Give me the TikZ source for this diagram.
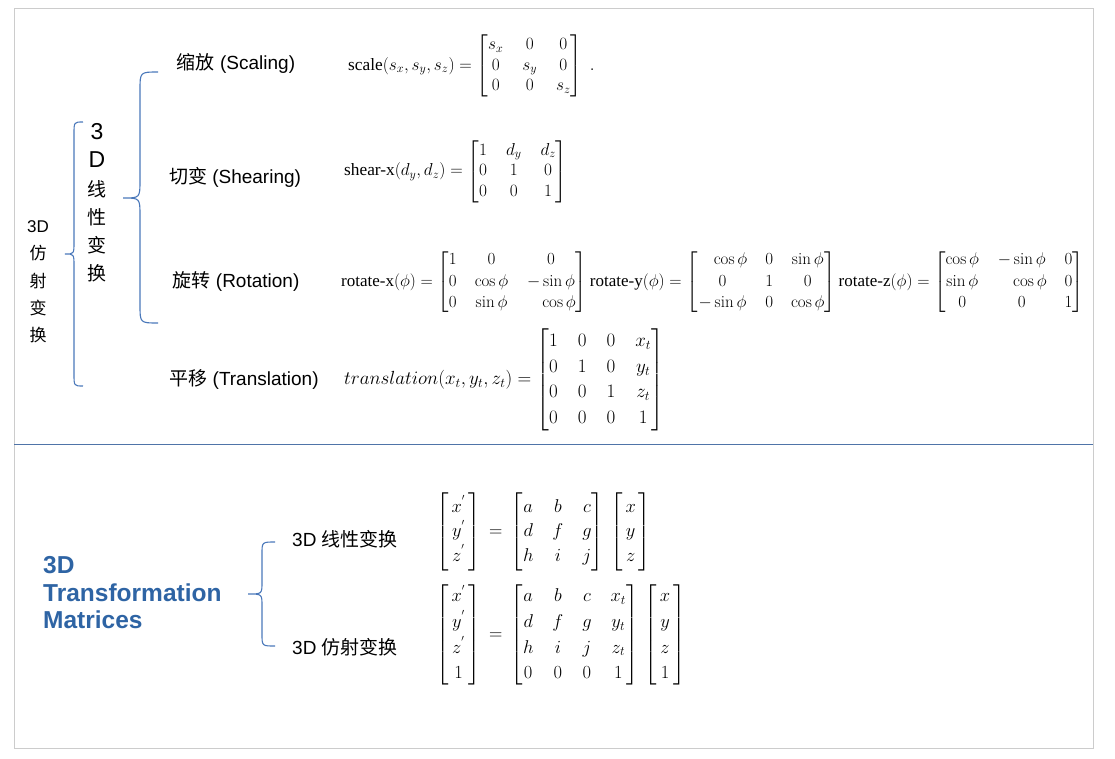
\RequirePackage{fix-cm}
\documentclass[tikz,border=0pt]{standalone}
\usepackage{amsmath, amssymb}
\usepackage{xcolor}
\usepackage{fontspec}
\usepackage{tikz}
\newfontfamily\labfont{Liberation Sans}
\newfontfamily\tms{Liberation Serif}
\newfontfamily\cjk{Noto Sans CJK SC}
\newcommand{\zh}[1]{{\cjk #1}}
\definecolor{BraceBlue}{HTML}{4A78BA}
\definecolor{TitleBlue}{HTML}{2E64A4}
\definecolor{RuleBlue}{HTML}{4F74A8}
\definecolor{FrameGray}{HTML}{CCCCCC}
\setlength{\arraycolsep}{9.5pt}

\begin{document}
\begin{tikzpicture}[x=1pt,y=-1pt,
    lbl/.style={inner sep=0pt, font=\labfont\fontsize{19}{22}\selectfont},
    eqa/.style={anchor=west, inner sep=0pt, font=\fontsize{17.3}{20.5}\selectfont},
    eqb/.style={anchor=west, inner sep=0pt, font=\fontsize{19}{25.7}\selectfont},
    curly/.style={BraceBlue, line width=1.1pt}]
    \useasboundingbox (0,0) rectangle (1115,758);

    % Frame and the divider
    \draw[FrameGray] (14,8) rectangle (1093,748);
    \draw[RuleBlue, line width=0.8pt] (14,444) -- (1093,444);

    % Vertical headings
    \node[inner sep=0pt, align=center, font=\labfont\fontsize{17}{27.3}\selectfont] (affine) at (38,282) {3D\\\zh{仿}\\\zh{射}\\\zh{变}\\\zh{换}};
    \node[inner sep=0pt, align=center, font=\labfont\fontsize{19}{28.2}\selectfont] (linear) at (97,203) {{\fontsize{23}{28.2}\selectfont 3}\\{\fontsize{23}{28.2}\selectfont D}\\\zh{线}\\\zh{性}\\\zh{变}\\\zh{换}};

    % Braces
    \draw[curly] (83,122) .. controls (74,122) .. (74,134) -- (74,242) .. controls (74,254) .. (65,254) .. controls (74,254) .. (74,266) -- (74,374) .. controls (74,386) .. (83,386);
    \draw[curly] (158,72) .. controls (140,72) .. (140,90) -- (140,180) .. controls (140,198) .. (123,198) .. controls (140,198) .. (140,216) -- (140,305) .. controls (140,323) .. (158,323);

    % Transformation names
    \node[lbl] (scl) at (236,63) {\zh{缩放} (Scaling)};
    \node[lbl] (shr) at (235,177) {\zh{切变} (Shearing)};
    \node[lbl] (rot) at (236,281) {\zh{旋转} (Rotation)};
    \node[lbl] (trn) at (244,379) {\zh{平移} (Translation)};

    % Their matrices
    \node[eqa] (scleq) at (348,66) {$\text{\tms scale}(s_x,s_y,s_z)=\begin{bmatrix}s_x&0&0\\0&s_y&0\\0&0&s_z\end{bmatrix}\;.$};
    \node[eqa] (shreq) at (344,171.5) {$\text{\tms shear-x}(d_y,d_z)=\begin{bmatrix}1&d_y&d_z\\0&1&0\\0&0&1\end{bmatrix}$};
    \node[eqa, font=\fontsize{17}{21.5}\selectfont] (roteq) at (341,282) {\setlength{\arraycolsep}{9pt}$\text{\tms rotate-x}(\phi)=\begin{bmatrix}1&0&0\\0&\cos\phi&-\sin\phi\\0&\sin\phi&\phantom{-}\cos\phi\end{bmatrix}\text{\tms rotate-y}(\phi)=\begin{bmatrix}\phantom{-}\cos\phi&0&\sin\phi\\0&1&0\\-\sin\phi&0&\cos\phi\end{bmatrix}\text{\tms rotate-z}(\phi)=\begin{bmatrix}\cos\phi&-\sin\phi&0\\\sin\phi&\phantom{-}\cos\phi&0\\0&0&1\end{bmatrix}$};
    \node[eqb] (trneq) at (344,380) {\setlength{\arraycolsep}{10pt}$translation(x_t,y_t,z_t)=\begin{bmatrix}1&0&0&x_t\\0&1&0&y_t\\0&0&1&z_t\\0&0&0&1\end{bmatrix}$};

    % Lower half
    \node[anchor=west, align=left, inner sep=0pt, text=TitleBlue, font=\labfont\bfseries\fontsize{24.5}{27.5}\selectfont] (title) at (43,593) {3D\\Transformation\\Matrices};
    \draw[curly] (275,542) .. controls (262,542) .. (262,554) -- (262,582) .. controls (262,594) .. (248,594) .. controls (262,594) .. (262,606) -- (262,634) .. controls (262,646) .. (275,646);
    \node[lbl] (lin) at (345,539) {3D \zh{线性变换}};
    \node[lbl] (aff) at (345,647) {3D \zh{仿射变换}};
    \node[eqb, font=\fontsize{18.5}{24.5}\selectfont] (lineq) at (436,532) {$\begin{bmatrix}\,x^{'}\,\\y^{'}\\z^{'}\end{bmatrix}\,=\,\begin{bmatrix}a&b&c\\d&f&g\\h&i&j\end{bmatrix}\,\begin{bmatrix}\,x\,\\y\\z\end{bmatrix}$};
    \node[eqb, font=\fontsize{18.5}{25.7}\selectfont] (affeq) at (436,635) {$\begin{bmatrix}\,x^{'}\,\\y^{'}\\z^{'}\\1\end{bmatrix}\,=\,\begin{bmatrix}a&b&c&x_t\\d&f&g&y_t\\h&i&j&z_t\\0&0&0&1\end{bmatrix}\,\begin{bmatrix}\,x\,\\y\\z\\1\end{bmatrix}$};
\end{tikzpicture}
\end{document}
